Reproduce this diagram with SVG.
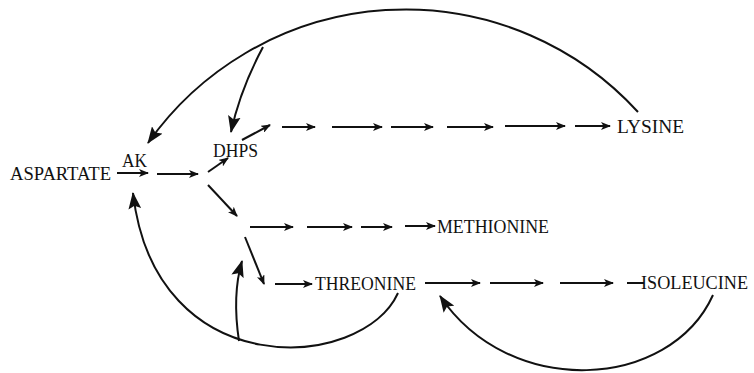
<svg xmlns="http://www.w3.org/2000/svg" width="754" height="373" viewBox="0 0 754 373">
<defs>
<style>
.lbl{font-family:"Liberation Serif","Times New Roman",serif;font-size:19.5px;fill:#111}
.a{stroke:#111;stroke-width:2;fill:none;marker-end:url(#sm)}
.d{stroke:#111;stroke-width:2;fill:none}
.c{stroke:#111;stroke-width:2;fill:none;marker-end:url(#big)}
</style>
<marker id="sm" viewBox="0 0 10 8" refX="9" refY="4" markerWidth="10" markerHeight="8" markerUnits="userSpaceOnUse" orient="auto">
<path d="M0,0 L10,4 L0,8 L2.5,4 z" fill="#111"/>
</marker>
<marker id="big" viewBox="0 0 16 12" refX="15" refY="6" markerWidth="17" markerHeight="13" markerUnits="userSpaceOnUse" orient="auto">
<path d="M0,0 L16,6 L0,12 L3,6 z" fill="#111"/>
</marker>
</defs>
<rect width="754" height="373" fill="#fff"/>
<g id="aspartate"><text class="lbl" x="10" y="180" textLength="101" lengthAdjust="spacingAndGlyphs">ASPARTATE</text></g>
<g id="ak"><text class="lbl" x="122" y="167" textLength="25" lengthAdjust="spacingAndGlyphs">AK</text></g>
<g id="dhps"><text class="lbl" x="213" y="157" textLength="45" lengthAdjust="spacingAndGlyphs">DHPS</text></g>
<g id="lysine"><text class="lbl" x="617" y="133" textLength="67" lengthAdjust="spacingAndGlyphs">LYSINE</text></g>
<g id="methionine"><text class="lbl" x="437" y="233" textLength="112" lengthAdjust="spacingAndGlyphs">METHIONINE</text></g>
<g id="threonine"><text class="lbl" x="315" y="290" textLength="101" lengthAdjust="spacingAndGlyphs">THREONINE</text></g>
<g id="isoleucine"><text class="lbl" x="641" y="289" style="font-size:18px" textLength="107" lengthAdjust="spacingAndGlyphs">ISOLEUCINE</text></g>
<g id="connectors">
<line class="a" x1="117" y1="173" x2="148" y2="173"/>
<line class="a" x1="157" y1="174" x2="198" y2="174"/>
<line class="a" x1="208" y1="172" x2="228" y2="158"/>
<line class="a" x1="208" y1="185" x2="237" y2="216"/>
<line class="a" x1="242" y1="140" x2="270" y2="125"/>
<line class="a" x1="282" y1="127" x2="315" y2="127"/>
<line class="a" x1="332" y1="127" x2="382" y2="127"/>
<line class="a" x1="391" y1="127" x2="433" y2="127"/>
<line class="a" x1="447" y1="127" x2="493" y2="127"/>
<line class="a" x1="505" y1="126" x2="565" y2="126"/>
<line class="a" x1="575" y1="126" x2="610" y2="126"/>
<line class="a" x1="250" y1="227" x2="293" y2="227"/>
<line class="a" x1="307" y1="227" x2="352" y2="227"/>
<line class="a" x1="361" y1="227" x2="392" y2="227"/>
<line class="a" x1="405" y1="226" x2="435" y2="226"/>
<line class="a" x1="245" y1="237" x2="264" y2="284"/>
<line class="a" x1="275" y1="284" x2="312" y2="284"/>
<line class="a" x1="425" y1="283" x2="480" y2="283"/>
<line class="a" x1="490" y1="283" x2="543" y2="283"/>
<line class="a" x1="560" y1="283" x2="613" y2="283"/>
<line class="d" x1="627" y1="283" x2="644" y2="283"/>
<path class="c" d="M 638 112 A 315 315 0 0 0 148 143"/>
<path class="c" d="M 263 47 Q 240 90 231 132"/>
<path class="c" d="M 398 293 C 362 372, 155 385, 133 193"/>
<path class="c" d="M 239 341 Q 232 295 242 261"/>
<path class="c" d="M 713 295 C 670 390, 510 400, 440 296"/>
</g>
</svg>
